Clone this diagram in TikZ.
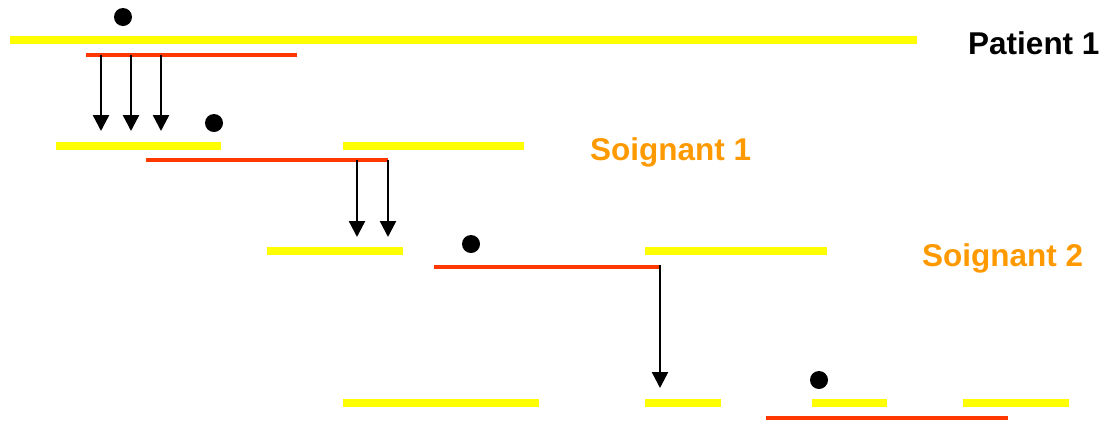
\documentclass[tikz,border=0pt]{standalone}
\usepackage{fontspec}
\setmainfont{Liberation Sans}
\usetikzlibrary{arrows.meta}
\definecolor{ybar}{RGB}{255,255,0}
\definecolor{rbar}{RGB}{255,56,0}
\definecolor{olab}{RGB}{255,153,0}
\tikzset{
  ybarline/.style={draw=ybar,line width=8pt},
  rbarline/.style={draw=rbar,line width=4pt},
  transfer/.style={draw=black,line width=2.4pt,-{Triangle[width=16pt,length=16pt]}},
  dotmark/.style={circle,fill=black,inner sep=0pt,minimum size=18pt},
  lab/.style={inner sep=0pt,anchor=base west,font=\fontsize{31.5}{31.5}\selectfont\bfseries}
}
\begin{document}
\begin{tikzpicture}[x=1pt,y=-1pt]
\useasboundingbox (0,0) rectangle (1099,424);
% yellow bars
\draw[ybarline] (10,40) coordinate (y1a) -- (917,40) coordinate (y1b);
\draw[ybarline] (56,146) coordinate (y2a) -- (221,146) coordinate (y2b);
\draw[ybarline] (343,146) coordinate (y3a) -- (524,146) coordinate (y3b);
\draw[ybarline] (267,251) coordinate (y4a) -- (403,251) coordinate (y4b);
\draw[ybarline] (645,251) coordinate (y5a) -- (827,251) coordinate (y5b);
\draw[ybarline] (343,403) coordinate (y6a) -- (539,403) coordinate (y6b);
\draw[ybarline] (645,403) coordinate (y7a) -- (721,403) coordinate (y7b);
\draw[ybarline] (812,403) coordinate (y8a) -- (887,403) coordinate (y8b);
\draw[ybarline] (963,403) coordinate (y9a) -- (1069,403) coordinate (y9b);
% red bars
\draw[rbarline] (86,55) coordinate (r1a) -- (297,55) coordinate (r1b);
\draw[rbarline] (146,160) coordinate (r2a) -- (388,160) coordinate (r2b);
\draw[rbarline] (434,267) coordinate (r3a) -- (660,267) coordinate (r3b);
\draw[rbarline] (766,418) coordinate (r4a) -- (1008,418) coordinate (r4b);
% dots
\node[dotmark] (d1) at (123,17) {};
\node[dotmark] (d2) at (214,123) {};
\node[dotmark] (d3) at (471,244) {};
\node[dotmark] (d4) at (819,380) {};
% arrow endpoints
\coordinate (s1) at (101,55); \coordinate (t1) at (101,131);
\coordinate (s2) at (131,55); \coordinate (t2) at (131,131);
\coordinate (s3) at (161,55); \coordinate (t3) at (161,131);
\coordinate (s4) at (357,160); \coordinate (t4) at (357,237);
\coordinate (s5) at (388,160); \coordinate (t5) at (388,237);
\coordinate (s6) at (660,265); \coordinate (t6) at (660,388);
\draw[transfer] (s1) -- (t1);
\draw[transfer] (s2) -- (t2);
\draw[transfer] (s3) -- (t3);
\draw[transfer] (s4) -- (t4);
\draw[transfer] (s5) -- (t5);
\draw[transfer] (s6) -- (t6);
% labels
\node[lab,text=black] (p1) at (968,54) {Patient 1};
\node[lab,text=olab] (so1) at (590,160) {Soignant 1};
\node[lab,text=olab] (so2) at (922,266) {Soignant 2};
\end{tikzpicture}
\end{document}
